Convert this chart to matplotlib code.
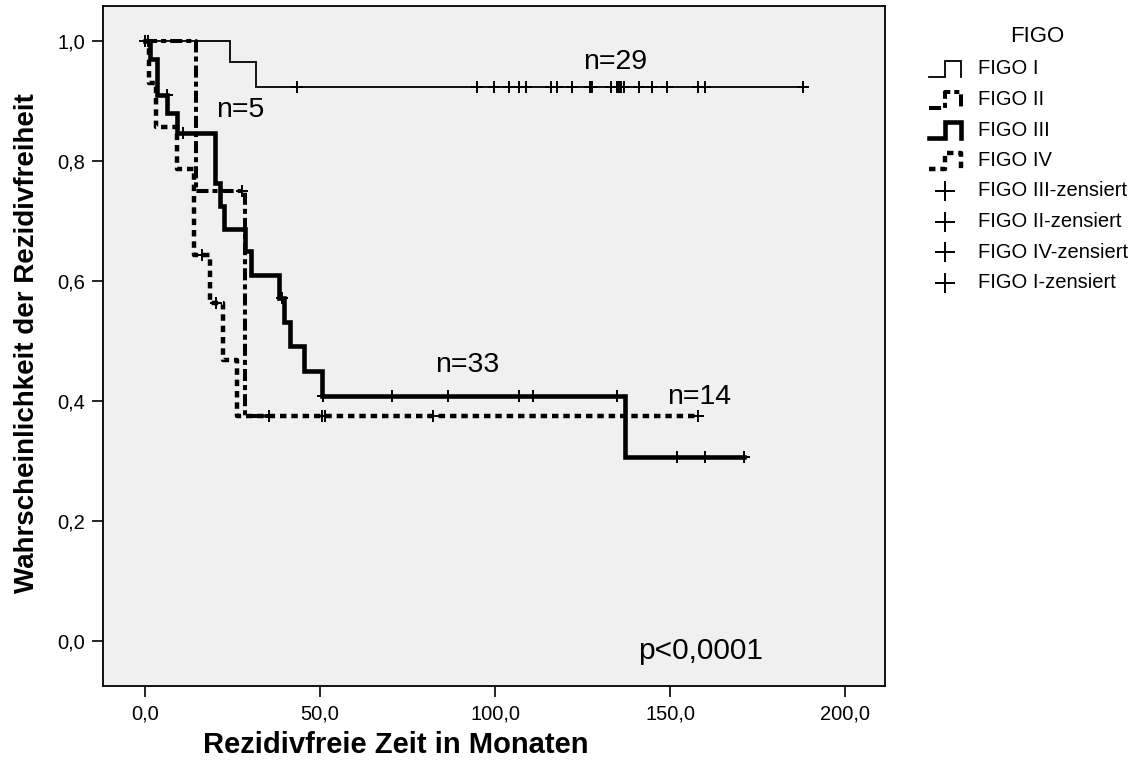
import numpy as np
import matplotlib
matplotlib.use("Agg")
import matplotlib.pyplot as plt

plt.rcParams['font.family'] = ['Liberation Sans', 'DejaVu Sans']

# Kaplan-Meier Stufen (Zeit in Monaten, Rezidivfreiheit), gelesen aus dem Bild
figo1_t = [0.0, 24.3, 31.7]
figo1_s = [1.0, 0.964, 0.923]
figo1_end = 188.0
figo1_cens = [0.0, 43.5, 94.8, 99.8, 103.9, 106.9, 108.8, 115.9, 117.6, 122.0,
              127.0, 127.7, 133.0, 134.9, 135.5, 136.1, 136.9, 141.0, 144.9,
              149.0, 158.1, 160.0, 188.0]

figo2_t = [0.0, 14.5, 28.6]
figo2_s = [1.0, 0.75, 0.375]
figo2_end = 35.5
figo2_cens = [0.8, 27.6, 35.5]

figo3_t = [0.0, 1.4, 3.3, 6.3, 9.0, 20.0, 21.4, 22.6, 28.6, 30.2, 38.4,
           39.6, 41.4, 45.5, 50.6, 137.1]
figo3_s = [1.0, 0.970, 0.909, 0.879, 0.846, 0.763, 0.724, 0.686, 0.649, 0.610,
           0.572, 0.531, 0.491, 0.450, 0.408, 0.307]
figo3_end = 171.2
figo3_cens = [6.2, 10.9, 39.0, 50.9, 70.7, 86.7, 106.9, 110.8, 134.9,
              151.9, 160.0, 171.2]

figo4_t = [0.0, 1.0, 3.0, 9.0, 13.9, 18.6, 22.4, 26.4]
figo4_s = [1.0, 0.929, 0.857, 0.786, 0.643, 0.5625, 0.469, 0.375]
figo4_end = 158.0
figo4_cens = [16.2, 20.3, 50.5, 51.4, 82.4, 158.0]

group_names = ['FIGO I', 'FIGO II', 'FIGO III', 'FIGO IV']
cens_names = ['FIGO III-zensiert', 'FIGO II-zensiert', 'FIGO IV-zensiert', 'FIGO I-zensiert']

n_labels = ['n=29', 'n=5', 'n=33', 'n=14']
n_pos = [(134.3, 0.965), (27.1, 0.885), (92.0, 0.46), (158.3, 0.407)]

xticks = [0, 50, 100, 150, 200]
xtick_labels = ['0,0', '50,0', '100,0', '150,0', '200,0']
yticks = [0.0, 0.2, 0.4, 0.6, 0.8, 1.0]
ytick_labels = ['0,0', '0,2', '0,4', '0,6', '0,8', '1,0']

styles = [
    dict(lw=1.3, ls='-'),
    dict(lw=2.9, ls=(0, (3.0, 1.0, 1.25, 1.0))),
    dict(lw=3.3, ls='-'),
    dict(lw=3.2, ls=(0, (1.45, 1.1))),
]

W, H = 1140, 763
fig = plt.figure(figsize=(W / 100, H / 100), dpi=100)
ax = fig.add_axes([103 / W, (H - 686) / H, (885 - 103) / W, (686 - 6) / H])
ax.set_facecolor('#f0f0f0')

groups = [
    (figo1_t, figo1_s, figo1_end, figo1_cens),
    (figo2_t, figo2_s, figo2_end, figo2_cens),
    (figo3_t, figo3_s, figo3_end, figo3_cens),
    (figo4_t, figo4_s, figo4_end, figo4_cens),
]

for (t, s, end, cens), st in zip(groups, styles):
    tt = list(t) + [end]
    ss = list(s) + [s[-1]]
    ax.step(tt, ss, where='post', color='black', solid_joinstyle='miter',
            dash_capstyle='butt', **st)
    idx = np.searchsorted(t, cens, side='right') - 1
    cs = np.array(s)[idx]
    ax.plot(cens, cs, ls='none', marker='+', ms=9, mew=1.4, color='black')

for lab, (x, y) in zip(n_labels, n_pos):
    ax.text(x, y, lab, fontsize=20.5, ha='center', va='center')
ax.text(141.0, -0.017, 'p<0,0001', fontsize=21.5, ha='left', va='center')

ax.set_xlim(-12.0, 211.4)
ax.set_ylim(-0.075, 1.058)
ax.set_xticks(xticks)
ax.set_xticklabels(xtick_labels)
ax.set_yticks(yticks)
ax.set_yticklabels(ytick_labels)
ax.tick_params(direction='out', length=8, width=1.2, labelsize=14.5, pad=5)
for sp in ax.spines.values():
    sp.set_linewidth(1.3)

fig.text(396 / W, 1 - 745 / H, 'Rezidivfreie Zeit in Monaten', fontsize=21,
         fontweight='bold', ha='center', va='center')
fig.text(27 / W, 1 - 343 / H, 'Wahrscheinlichkeit der Rezidivfreiheit', fontsize=20,
         fontweight='bold', ha='center', va='center', rotation=90)

# Legende (eigene Achse in Pixelkoordinaten)
lg = fig.add_axes([0, 0, 1, 1], facecolor='none')
lg.set_xlim(0, W)
lg.set_ylim(H, 0)
lg.axis('off')
lg.text(1037, 37, 'FIGO', fontsize=16, ha='center', va='center')
row_y = [69, 99.5, 130, 160.5, 191, 221.5, 252, 282.5]
for i, (name, st) in enumerate(zip(group_names, styles)):
    yc = row_y[i]
    hx = [929, 945, 945, 961, 961]
    hy = [yc + 8, yc + 8, yc - 8, yc - 8, yc + 8]
    lg.plot(hx, hy, color='black', solid_joinstyle='miter', dash_capstyle='butt', **st)
    lg.text(978, yc, name, fontsize=14.5, ha='left', va='center')
for j, name in enumerate(cens_names):
    yc = row_y[4 + j]
    lg.plot([945], [yc], marker='+', ms=15, mew=1.4, color='black')
    lg.text(978, yc, name, fontsize=14.5, ha='left', va='center')

fig.savefig('out.png', dpi=100, facecolor='white')
